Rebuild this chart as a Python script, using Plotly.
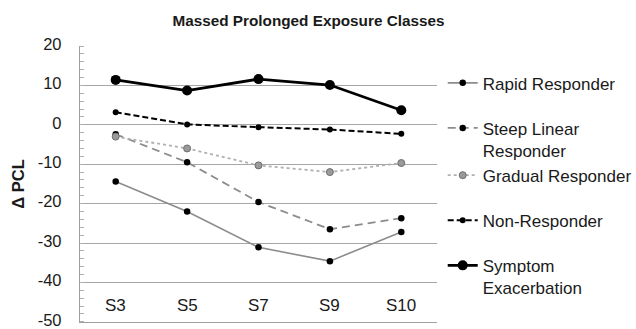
import plotly.graph_objects as go

sessions = ["S3", "S5", "S7", "S9", "S10"]
rapid = [-14.4, -22.0, -31.1, -34.6, -27.2]
steep = [-2.4, -9.5, -19.6, -26.5, -23.7]
gradual = [-3.0, -6.0, -10.3, -12.0, -9.7]
nonresp = [3.2, 0.1, -0.6, -1.2, -2.3]
symptom = [11.4, 8.7, 11.6, 10.1, 3.7]

y_ticks = [20, 10, 0, -10, -20, -30, -40, -50]
FONT = "Liberation Sans, Arial, sans-serif"
TXT = "#1a1a1a"

fig = go.Figure()
fig.add_trace(go.Scatter(
    x=sessions, y=rapid, name="Rapid Responder", mode="lines+markers",
    line=dict(color="#8c8c8c", width=1.6),
    marker=dict(color="#000000", size=6.5), legendgroup="g1"))
fig.add_trace(go.Scatter(
    x=sessions, y=steep, name="Steep Linear<br>Responder", mode="lines+markers",
    line=dict(color="#8c8c8c", width=1.8, dash="8px,5px"),
    marker=dict(color="#000000", size=6.5), legendgroup="g2"))
fig.add_trace(go.Scatter(
    x=sessions, y=gradual, name="Gradual Responder", mode="lines+markers",
    line=dict(color="#b0b0b0", width=1.8, dash="dot"),
    marker=dict(color="#9a9a9a", size=7, line=dict(color="#6e6e6e", width=1)),
    legendgroup="g2"))
fig.add_trace(go.Scatter(
    x=sessions, y=nonresp, name="Non-Responder", mode="lines+markers",
    line=dict(color="#000000", width=2, dash="6px,3px"),
    marker=dict(color="#000000", size=6), legendgroup="g3"))
fig.add_trace(go.Scatter(
    x=sessions, y=symptom, name="Symptom<br>Exacerbation", mode="lines+markers",
    line=dict(color="#000000", width=2.8),
    marker=dict(color="#000000", size=10), legendgroup="g4"))

for s in sessions:
    fig.add_annotation(x=s, y=-45.8, xref="x", yref="y", text=s, showarrow=False,
                       font=dict(family=FONT, size=17, color=TXT))

fig.update_layout(
    width=636, height=329,
    margin=dict(l=80, r=199, t=46, b=7, autoexpand=False),
    paper_bgcolor="white", plot_bgcolor="white",
    title=dict(text="<b>Massed Prolonged Exposure Classes</b>", x=308.5 / 636,
               xanchor="center", y=1 - 21 / 329, yanchor="middle",
               font=dict(family=FONT, size=15.3, color=TXT)),
    showlegend=True,
    legend=dict(x=1.016, xanchor="left", y=0.93, yanchor="top",
                font=dict(family=FONT, size=17, color=TXT),
                traceorder="grouped", tracegroupgap=20, valign="top",
                itemwidth=30, bgcolor="rgba(0,0,0,0)"),
)
fig.update_xaxes(
    type="category", range=[-0.5, 4.5], showticklabels=False, ticks="",
    showgrid=False, showline=True, linecolor="#a0a0a0", linewidth=1.3,
    zeroline=False)
fig.update_yaxes(
    range=[-50.05, 20], tickvals=y_ticks, ticktext=[str(v) for v in y_ticks],
    showgrid=True, gridcolor="#a6a6a6", gridwidth=1.3,
    showline=True, linecolor="#a0a0a0", linewidth=1.3, zeroline=False,
    ticks="", ticklabelstandoff=14, ticklabeloverflow="allow", ticklabelshift=-2,
    tickfont=dict(family=FONT, size=16.5, color=TXT),
    minor=dict(dtick=2, ticks="inside", ticklen=4, tickcolor="#b0b0b0",
               tickwidth=1, showgrid=False),
    title=dict(text="<b>Δ PCL</b>", standoff=8,
               font=dict(family=FONT, size=16.5, color=TXT)))

fig.write_html("out.html")
